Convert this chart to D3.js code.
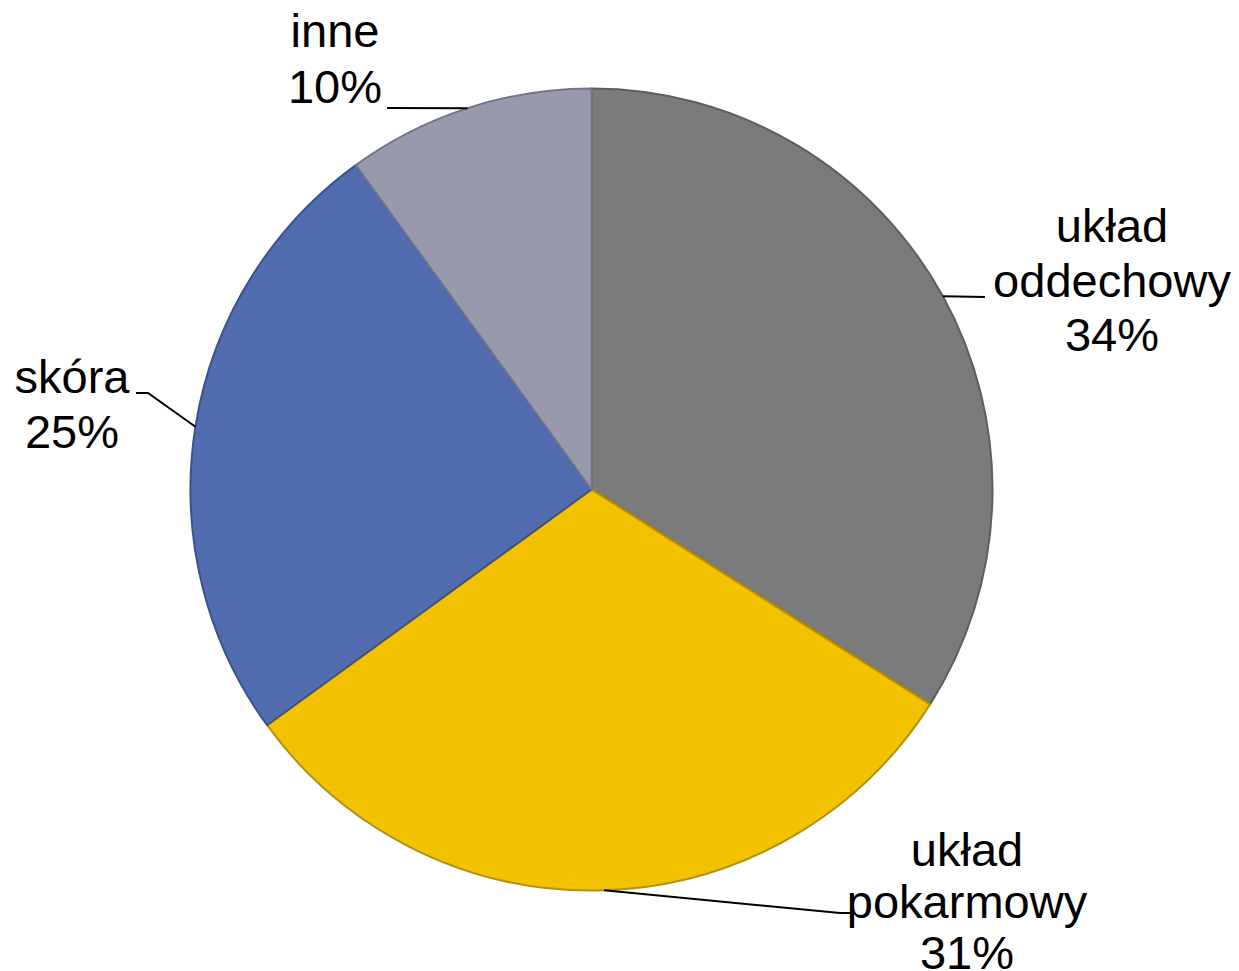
<!DOCTYPE html>
<html>
<head>
<meta charset="utf-8">
<script src="https://cdn.jsdelivr.net/npm/d3@7"></script>
<style>
  body { margin: 0; background: #fff; }
  svg text { font-family: "Liberation Sans", Arial, sans-serif; font-size: 47px; fill: #000; }
</style>
</head>
<body>
<svg id="chart" width="1239" height="971"></svg>
<script>
// data
var categories = ["układ oddechowy", "układ pokarmowy", "skóra", "inne"];
var shares = [34, 31, 25, 10];
var labelLines = [["układ", "oddechowy", "34%"], ["układ", "pokarmowy", "31%"], ["skóra", "25%"], ["inne", "10%"]];

// styling
var fills = ["#7b7b7b", "#f2c200", "#516db0", "#9899ab"];
var strokes = ["#5e5e5e", "#b89300", "#3c5290", "#74758a"];

// label layout: text centre x, first baseline y, line step, elbow of leader line
var labelPos = [
  {x: 1112, y: 242, step: 54.5, elbow: [985, 297]},
  {x: 967, y: 866, step: 51.5, elbow: [840, 913], end: [852, 913]},
  {x: 72, y: 393, step: 55, elbow: [148, 393], end: [136, 393]},
  {x: 335, y: 47, step: 56, elbow: [387, 108]}
];

var cx = 591.5, cy = 489.5, r = 401;

var svg = d3.select("#chart");
var g = svg.append("g").attr("transform", "translate(" + cx + "," + cy + ")");

var data = categories.map(function(c, i) { return {name: c, value: shares[i], i: i}; });
var pie = d3.pie().sort(null).value(function(d) { return d.value; });
var arcs = pie(data);

var arc = d3.arc().innerRadius(0).outerRadius(r);
var rim = d3.arc().innerRadius(r).outerRadius(r);

g.selectAll("path.slice")
  .data(arcs)
  .enter().append("path")
  .attr("class", "slice")
  .attr("d", arc)
  .attr("fill", function(d) { return fills[d.data.i]; })
  .attr("stroke", function(d) { return strokes[d.data.i]; })
  .attr("stroke-width", 2)
  .attr("stroke-linejoin", "round");

// leader lines from the rim at mid-angle to the label
arcs.forEach(function(a) {
  var p = labelPos[a.data.i];
  var c = rim.centroid(a);
  var pts = [[c[0] + cx, c[1] + cy], p.elbow];
  if (p.end) pts.push(p.end);
  svg.append("path")
    .attr("d", d3.line()(pts))
    .attr("fill", "none")
    .attr("stroke", "#000")
    .attr("stroke-width", 2);
});

// labels
arcs.forEach(function(a) {
  var p = labelPos[a.data.i];
  var t = svg.append("text").attr("text-anchor", "middle");
  labelLines[a.data.i].forEach(function(s, k) {
    t.append("tspan").attr("x", p.x).attr("y", p.y + k * p.step).text(s);
  });
});
</script>
</body>
</html>
